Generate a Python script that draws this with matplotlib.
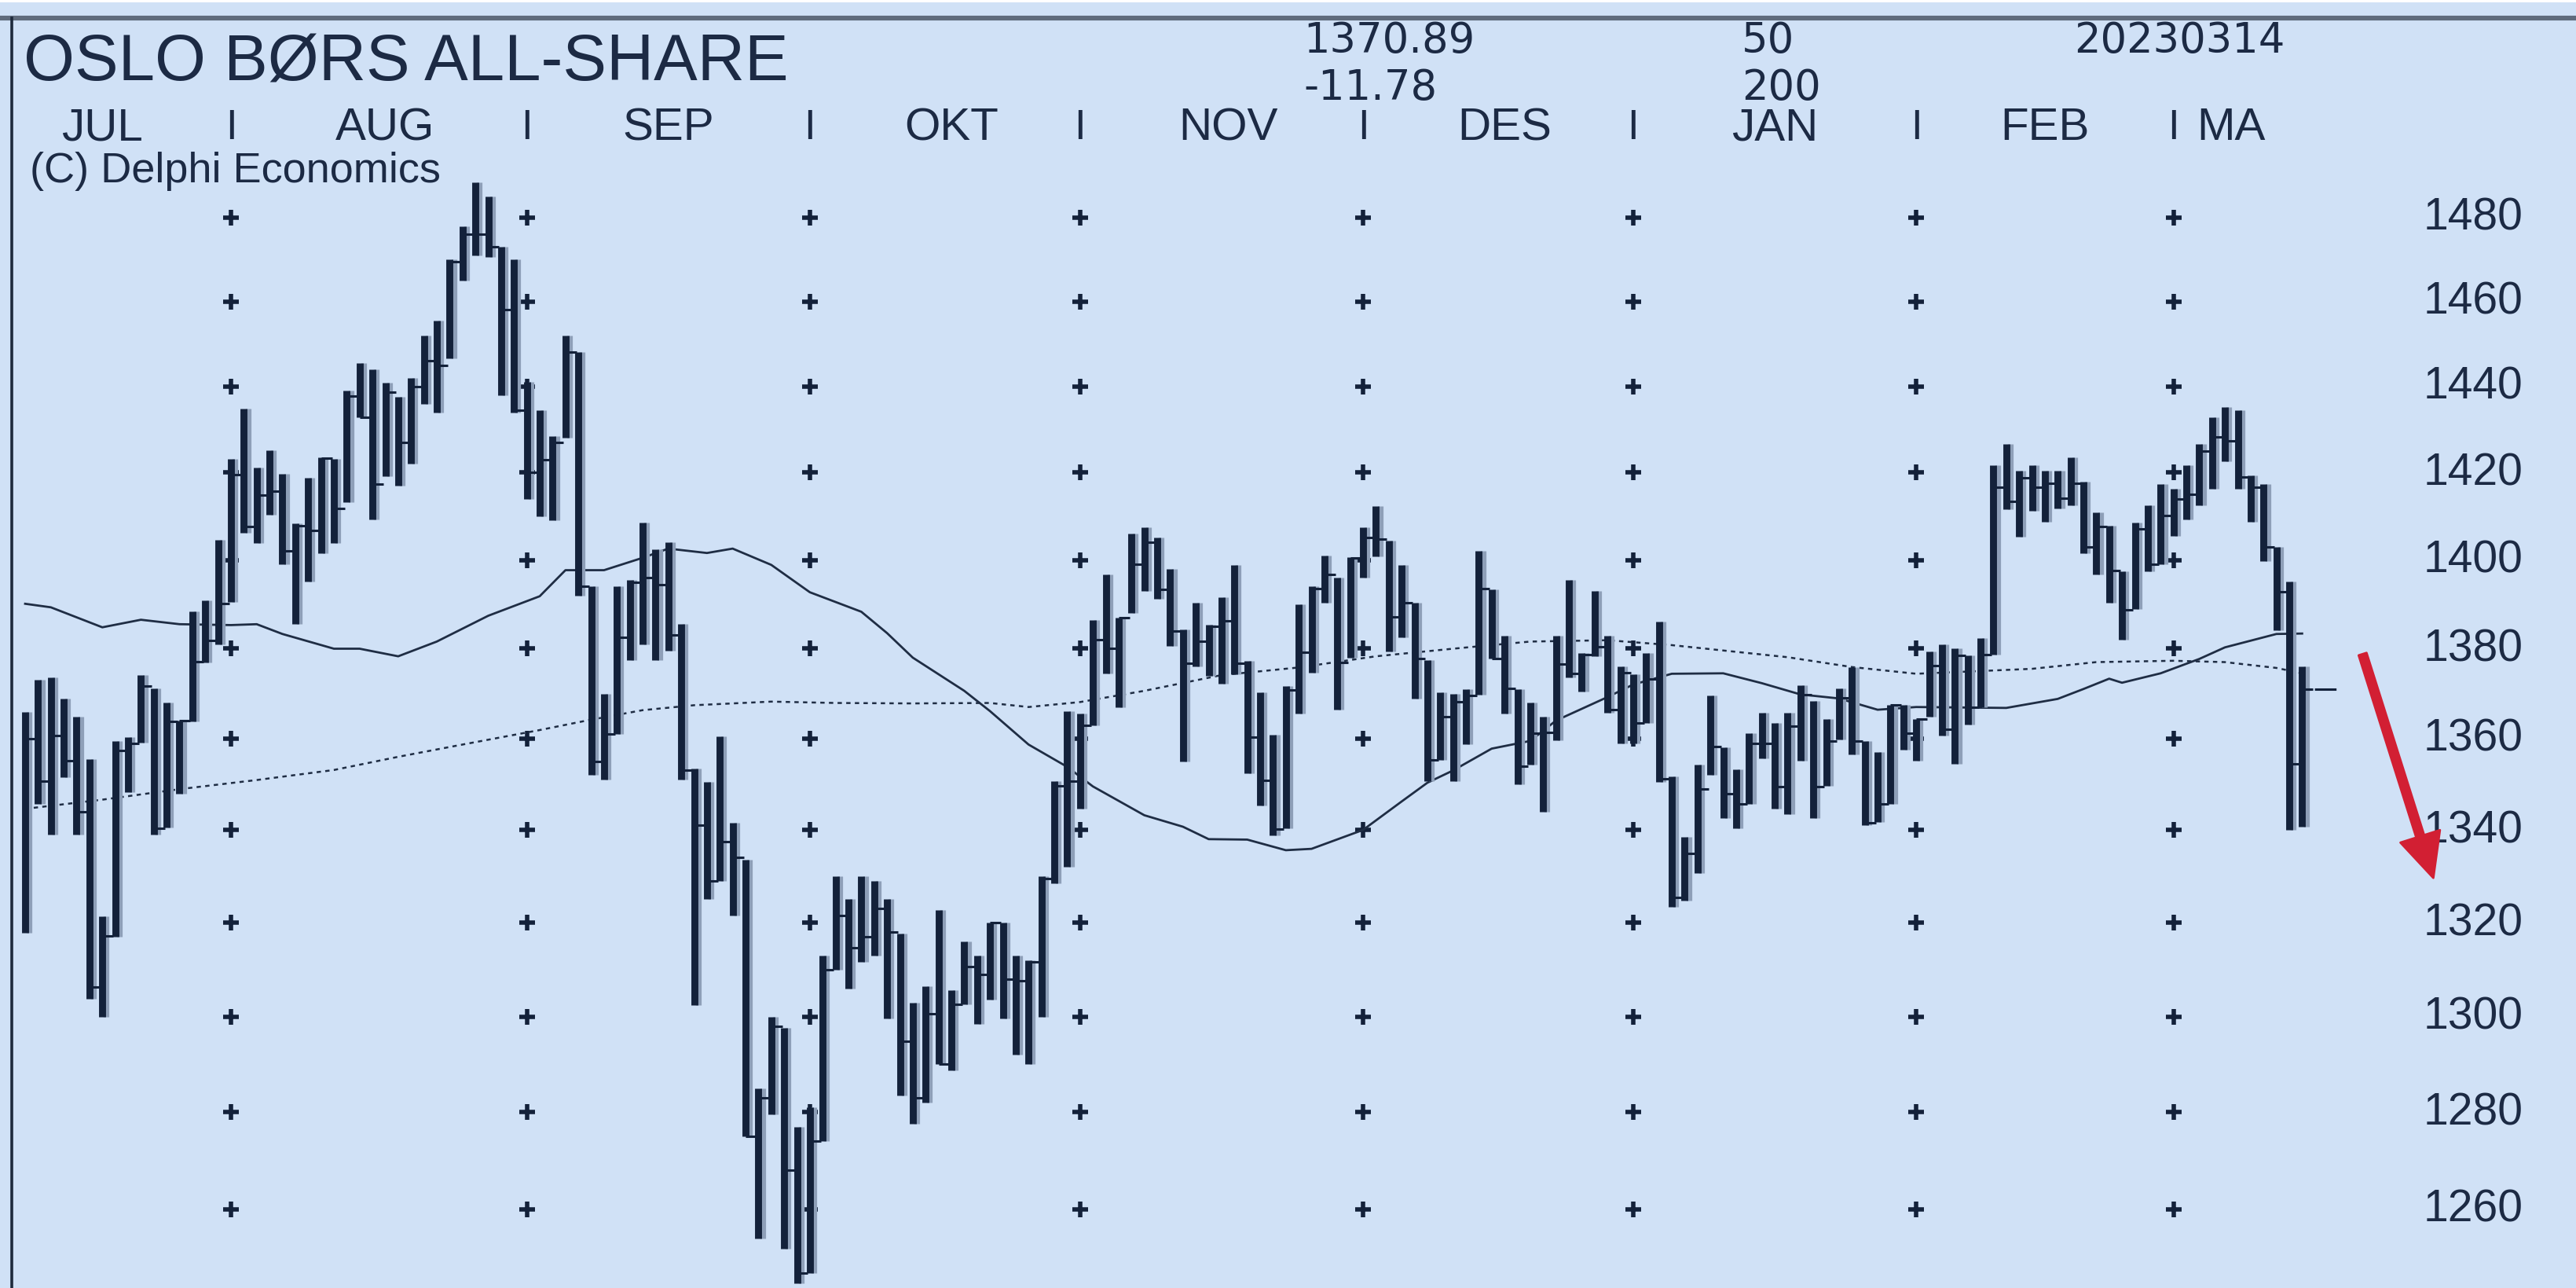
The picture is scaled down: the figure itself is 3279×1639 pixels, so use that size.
"""Oslo Børs All-Share, daglige HLC-stolper med 50/200 glidende snitt (Delphi-stil)."""
import matplotlib
matplotlib.use("Agg")
import matplotlib.pyplot as plt
import matplotlib.transforms as mtransforms
import numpy as np

plt.rcParams["font.family"] = ["Liberation Sans", "DejaVu Sans"]

# --- data lest av bildet (stolpe-indeks 0..177, jul 2022 - 14. mars 2023) ---
highs = [1365.9, 1373.0, 1373.6, 1368.9, 1364.9, 1355.5, 1321.3, 1359.4, 1360.4, 1374.2,
         1371.1, 1368.0, 1364.0, 1388.4, 1390.8, 1404.5, 1423.1, 1434.9, 1421.1, 1425.2,
         1419.7, 1408.3, 1418.9, 1423.6, 1423.1, 1439.0, 1445.5, 1444.0, 1440.8,
         1437.5, 1442.0, 1452.0, 1455.5, 1470.0, 1478.0, 1488.5, 1485.0, 1473.0, 1470.0,
         1441.0, 1434.5, 1428.5, 1452.0, 1448.0, 1394.0, 1370.0, 1394.0, 1395.5, 1408.5,
         1402.5, 1404.0, 1385.5, 1353.5, 1350.5, 1360.5, 1341.5, 1333.5, 1285.0,
         1300.0, 1297.7, 1277.0, 1281.0, 1313.0, 1330.0, 1325.0, 1330.0, 1329.0, 1325.0,
         1317.6, 1303.0, 1306.5, 1322.7, 1305.6, 1316.0, 1313.0, 1320.0, 1320.0, 1313.0,
         1312.0, 1330.0, 1350.6, 1366.0, 1365.6, 1386.5, 1396.7, 1387.0, 1406.0, 1407.5,
         1405.2, 1398.0, 1384.3, 1390.3, 1385.4, 1391.6, 1398.8, 1377.3, 1370.3, 1360.8,
         1371.7, 1390.0, 1394.0, 1401.0, 1396.0, 1400.6, 1407.5, 1412.3, 1404.4, 1398.8,
         1390.3, 1377.5, 1370.3, 1370.0, 1371.0, 1402.0, 1393.3, 1382.9, 1371.0,
         1368.0, 1364.9, 1382.9, 1395.4, 1379.0, 1393.0, 1382.9, 1376.0, 1374.3, 1379.0,
         1386.0, 1351.7, 1338.5, 1354.2, 1369.6, 1358.0, 1353.2, 1361.2, 1365.8, 1363.4,
         1365.8, 1371.8, 1368.3, 1364.3, 1371.2, 1375.8, 1359.5, 1357.1, 1367.5, 1367.5,
         1364.3, 1379.4, 1380.9, 1380.0, 1378.5, 1382.4, 1421.8, 1426.6, 1420.4, 1421.8,
         1420.4, 1420.4, 1423.5, 1417.9, 1410.8, 1407.9, 1397.4, 1408.6, 1412.5, 1417.3,
         1416.3, 1421.8, 1426.6, 1432.8, 1435.2, 1434.4, 1419.4, 1417.3, 1402.9, 1395.2,
         1376.0]
lows = [1317.9, 1345.7, 1339.0, 1351.6, 1339.0, 1303.8, 1300.0, 1316.9, 1348.3, 1359.1,
        1339.0, 1340.6, 1347.9, 1363.8, 1376.9, 1380.9, 1390.5, 1406.2, 1403.9, 1410.3,
        1399.0, 1385.5, 1395.1, 1401.5, 1403.9, 1413.3, 1432.9, 1409.3, 1419.2,
        1417.0, 1422.0, 1436.0, 1434.0, 1446.5, 1465.0, 1471.0, 1470.5, 1438.0, 1434.0,
        1414.0, 1410.0, 1409.0, 1428.0, 1392.0, 1352.0, 1351.0, 1361.0, 1377.5, 1381.0,
        1377.5, 1379.5, 1351.0, 1302.5, 1325.0, 1329.0, 1321.5, 1275.0, 1254.0,
        1279.5, 1252.0, 1245.0, 1247.0, 1274.0, 1310.0, 1306.0, 1311.6, 1313.0, 1299.7,
        1283.5, 1277.6, 1282.0, 1290.0, 1288.7, 1302.6, 1298.5, 1303.6, 1299.7, 1292.0,
        1290.0, 1300.0, 1328.4, 1332.0, 1344.6, 1362.9, 1374.4, 1367.0, 1388.0, 1393.0,
        1391.3, 1380.7, 1355.0, 1376.0, 1374.0, 1372.2, 1374.3, 1352.3, 1345.3, 1338.8,
        1340.4, 1365.6, 1374.6, 1390.3, 1366.4, 1378.0, 1396.0, 1400.8, 1379.3, 1382.5,
        1368.8, 1350.7, 1355.4, 1350.7, 1358.8, 1369.7, 1377.8, 1365.6, 1350.0,
        1354.2, 1344.0, 1359.7, 1373.5, 1370.5, 1378.4, 1365.8, 1358.9, 1359.0, 1363.5,
        1350.5, 1323.3, 1324.8, 1330.7, 1352.0, 1342.6, 1340.3, 1345.6, 1355.7, 1344.7,
        1343.5, 1355.1, 1342.6, 1349.6, 1359.8, 1356.6, 1341.0, 1341.8, 1345.6, 1357.6,
        1355.2, 1364.9, 1360.6, 1354.4, 1363.2, 1366.9, 1378.6, 1411.6, 1405.3, 1411.2,
        1408.8, 1411.7, 1412.5, 1401.5, 1396.7, 1390.4, 1382.0, 1388.9, 1397.4, 1399.1,
        1405.4, 1409.3, 1412.5, 1416.3, 1422.7, 1416.3, 1408.8, 1399.8, 1384.2, 1340.1,
        1340.7]
closes = [1360.0, 1350.6, 1360.7, 1355.2, 1344.0, 1306.3, 1317.2, 1357.4, 1358.9, 1371.6,
          1340.4, 1363.8, 1364.0, 1377.1, 1381.8, 1390.1, 1419.5, 1407.6, 1414.9, 1415.8,
          1402.0, 1407.9, 1406.8, 1423.3, 1411.8, 1437.8, 1432.9, 1417.4, 1438.6,
          1427.0, 1440.0, 1446.0, 1445.0, 1469.5, 1476.0, 1476.0, 1473.0, 1458.0, 1434.5,
          1420.0, 1423.0, 1427.0, 1448.0, 1394.0, 1355.0, 1361.0, 1382.5, 1395.0, 1396.0,
          1394.5, 1383.0, 1353.0, 1341.0, 1329.0, 1337.5, 1334.0, 1275.0, 1283.0,
          1298.0, 1268.0, 1247.0, 1274.0, 1310.0, 1321.6, 1314.6, 1317.0, 1323.0, 1318.0,
          1294.8, 1283.0, 1300.7, 1290.0, 1302.6, 1310.6, 1309.0, 1320.0, 1308.0, 1307.6,
          1311.6, 1329.5, 1349.7, 1350.6, 1362.9, 1382.0, 1380.0, 1387.0, 1399.0, 1404.0,
          1393.3, 1384.0, 1376.7, 1381.6, 1385.0, 1386.2, 1376.8, 1360.3, 1350.8, 1340.2,
          1370.7, 1379.2, 1393.5, 1396.7, 1377.0, 1400.5, 1405.2, 1404.7, 1387.2, 1390.3,
          1377.8, 1355.4, 1364.9, 1368.2, 1369.5, 1393.5, 1377.8, 1371.2, 1354.0,
          1361.2, 1361.4, 1376.5, 1374.4, 1378.7, 1380.5, 1366.4, 1374.7, 1363.5, 1373.2,
          1351.1, 1325.4, 1334.9, 1348.9, 1358.2, 1347.9, 1345.6, 1359.0, 1359.0, 1349.5,
          1362.8, 1369.8, 1349.5, 1359.4, 1369.0, 1359.5, 1341.6, 1345.6, 1367.5, 1361.2,
          1364.3, 1376.2, 1362.1, 1378.5, 1366.9, 1378.6, 1416.6, 1413.4, 1418.9, 1416.6,
          1417.5, 1414.2, 1417.5, 1402.9, 1407.7, 1397.6, 1388.7, 1407.1, 1399.1, 1410.1,
          1414.0, 1415.1, 1425.0, 1428.3, 1427.4, 1419.0, 1416.6, 1402.9, 1392.8, 1354.4,
          1370.89]

# glidende snitt, avlest i punkter (stolpe-indeks, verdi)
ma50_idx = [0, 2, 6, 9, 12, 16, 18, 20, 24, 26, 29, 32, 36, 40, 42, 45, 48, 50, 53, 55,
            58, 61, 65, 67, 69, 73, 75, 78, 81, 83, 87, 90, 92, 95, 98, 100, 104, 107, 109,
            111, 114, 117, 119, 123, 125, 128, 132, 135, 138, 141, 144, 147, 154, 158, 160,
            162, 163, 166, 169, 171, 175, 177]
ma50_val = [1390.1, 1389.3, 1384.8, 1386.5, 1385.5, 1385.3, 1385.5, 1383.3, 1380.0, 1380.0,
            1378.3, 1381.6, 1387.4, 1391.8, 1397.7, 1397.7, 1400.5, 1402.6, 1401.6, 1402.6,
            1398.9, 1392.7, 1388.3, 1383.5, 1378.0, 1370.6, 1366.1, 1358.7, 1353.8, 1349.5,
            1343.2, 1340.7, 1338.0, 1337.9, 1335.6, 1335.9, 1340.0, 1346.2, 1350.3, 1353.0,
            1357.8, 1359.5, 1364.0, 1369.2, 1372.0, 1374.4, 1374.5, 1372.3, 1369.8, 1368.9,
            1366.4, 1367.0, 1366.8, 1368.8, 1371.0, 1373.3, 1372.4, 1374.5, 1377.7, 1380.3,
            1383.3, 1383.4]
ma200_idx = [0, 6, 12, 18, 24, 29, 34, 40, 44, 48, 52, 58, 63, 69, 75, 78, 82, 87, 93, 99,
             105, 111, 117, 123, 128, 133, 137, 142, 147, 156, 161, 167, 171, 175, 177]
ma200_val = [1344.6, 1346.6, 1348.9, 1350.9, 1353.1, 1356.0, 1358.7, 1361.9, 1364.2, 1366.3,
             1367.4, 1368.2, 1367.9, 1367.8, 1367.9, 1367.0, 1368.1, 1370.6, 1374.1, 1375.8,
             1378.3, 1380.0, 1381.6, 1381.9, 1380.8, 1379.3, 1378.1, 1375.9, 1374.4, 1375.5,
             1377.0, 1377.3, 1377.0, 1375.7, 1374.5]

month_names = ["JUL", "AUG", "SEP", "OKT", "NOV", "DES", "JAN", "FEB", "MA"]
month_mid = [6, 28, 50, 72, 93.5, 115, 136, 157, 171.5]
month_end = [16, 39, 61, 82, 104, 125, 147, 167]
price_ticks = [1260, 1280, 1300, 1320, 1340, 1360, 1380, 1400, 1420, 1440, 1460, 1480]

last_close = 1370.89
change = -11.78

BG = "#d0e1f6"
INK = "#13213a"
TXT = "#1c2a44"
NUMFONT = ["DejaVu Sans"]

fig = plt.figure(figsize=(16.4, 8.2), dpi=200, facecolor=BG)
ax = fig.add_axes([0, 0, 1, 1])
ax.set_yscale("log")
ax.set_xlim(-1.954, 198.35)
ax.set_ylim(1244.0, 1533.4)
ax.axis("off")

x = np.arange(len(closes))
hi = np.array(highs)
lo = np.array(lows)
cl = np.array(closes)

# rutenett-kryss ved månedsskiftene
gx, gy = np.meshgrid(month_end, price_ticks)
ax.plot(gx.ravel(), gy.ravel(), ls="none", marker="+", ms=7, mew=2.0, color=INK, zorder=1)

# glidende snitt
ax.plot(ma50_idx, ma50_val, color="#1f2d44", lw=1.0, zorder=2)
ax.plot(ma200_idx, ma200_val, color="#1f2d44", lw=0.9, ls=(0, (2.2, 2.2)), zorder=2)

# stolper (med litt lys "skygge" som i originalen)
ax.vlines(x + 0.32, lo, hi, color="#8e9fb8", lw=2.6, zorder=3)
ax.vlines(x, lo, hi, color=INK, lw=3.2, zorder=4)
ax.hlines(cl, x, x + 0.85, color=INK, lw=1.1, zorder=4)

# siste kurs forlenget
ax.plot([len(cl) - 0.6, len(cl) + 3.0], [last_close, last_close], color=INK, lw=1.1,
        ls=(0, (1.5, 1.5, 9, 40)), zorder=4)

# rød pil
ax.annotate("", xy=(187.2, 1329.6), xytext=(181.7, 1378.8),
            arrowprops=dict(width=3.8, headwidth=19, headlength=20, color="#d21f33",
                            shrink=0), zorder=6)

# pris-etiketter på høyre side
ty = mtransforms.blended_transform_factory(ax.transAxes, ax.transData)
for p in price_ticks:
    ax.text(0.9405, p, str(p), transform=ty, ha="left", va="center",
            fontsize=20.5, color=TXT)

# månedsrad
tm = mtransforms.blended_transform_factory(ax.transData, ax.transAxes)
for name, m in zip(month_names, month_mid):
    ax.text(m, 0.9006, name, transform=tm, ha="center", va="center", fontsize=21, color=TXT)
for m in month_end:
    ax.text(m, 0.9006, "I", transform=tm, ha="center", va="center", fontsize=19, color=TXT)

# topptekst
fig.text(0.009, 0.951, "OSLO BØRS ALL-SHARE", fontsize=30, color=TXT, va="center")
fig.text(0.506, 0.968, f"{last_close:.2f}", fontsize=19, color=TXT, va="center",
         family=NUMFONT)
fig.text(0.506, 0.932, f"{change:.2f}", fontsize=19, color=TXT, va="center",
         family=NUMFONT)
fig.text(0.676, 0.968, "50", fontsize=19, color=TXT, va="center", family=NUMFONT)
fig.text(0.676, 0.932, "200", fontsize=19, color=TXT, va="center", family=NUMFONT)
fig.text(0.805, 0.968, "20230314", fontsize=19, color=TXT, va="center", family=NUMFONT)
fig.text(0.0116, 0.867, "(C) Delphi Economics", fontsize=19.5, color=TXT, va="center")

# ramme: grå topplinje og mørk venstrekant
fig.add_artist(plt.Rectangle((0, 0.9976), 1, 0.0024, transform=fig.transFigure,
                             color="white", lw=0))
fig.add_artist(plt.Line2D([0, 1], [0.9855, 0.9855], transform=fig.transFigure,
                          color="#5f6b7c", lw=2.2))
fig.add_artist(plt.Line2D([0.0046, 0.0046], [0, 0.9855], transform=fig.transFigure,
                          color="#1e2a3c", lw=1.3))

fig.savefig("out.png", dpi=200, facecolor=BG)
